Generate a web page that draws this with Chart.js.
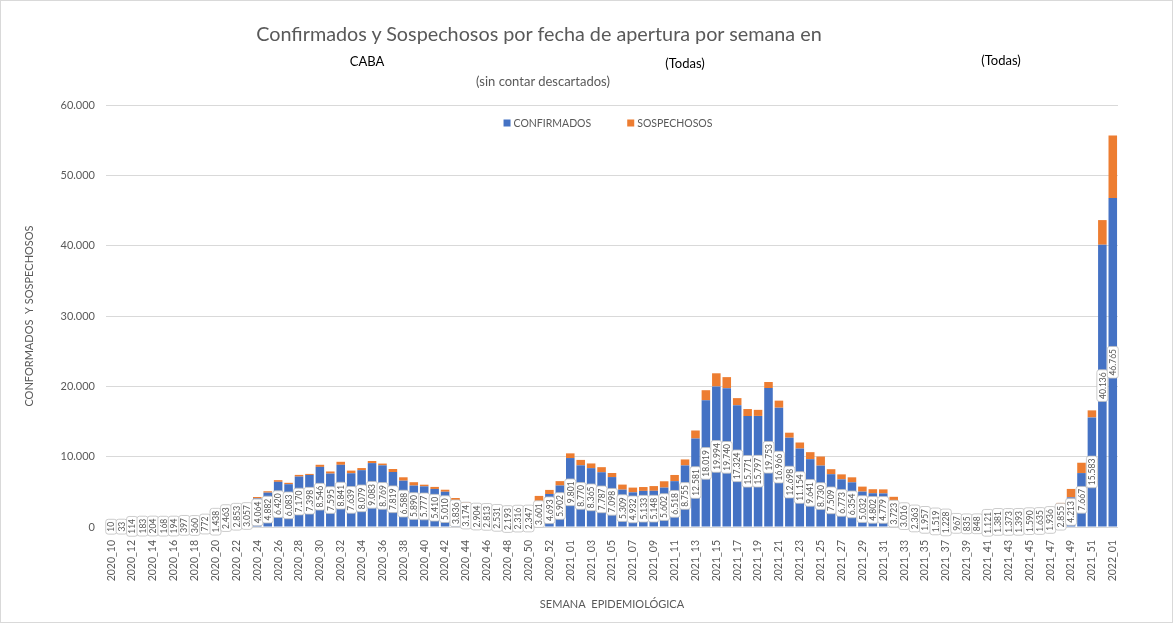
<!DOCTYPE html>
<html>
<head>
<meta charset="utf-8">
<script src="https://cdn.jsdelivr.net/npm/chart.js@4"></script>
<style>
  html, body { margin: 0; padding: 0; background: #fff; }
  #wrap { position: relative; width: 1173px; height: 623px; box-sizing: border-box; border: 1px solid #d9d9d9; overflow: hidden; }
  #c { position: absolute; left: 0; top: 0; }
  .t { position: absolute; font-family: Lato, "Open Sans", sans-serif; white-space: nowrap; transform: translate(-50%, -50%); }
</style>
</head>
<body>
<div id="wrap">
  <canvas id="c" width="1171" height="621"></canvas>
  <div class="t" style="left:538px; top:32px; font-size:19.8px; color:#595959;">Confirmados y Sospechosos por fecha de apertura por semana en</div>
  <div class="t" style="left:366px; top:60px; font-size:13px; color:#000;">CABA</div>
  <div class="t" style="left:684px; top:62px; font-size:13px; color:#000;">(Todas)</div>
  <div class="t" style="left:1000px; top:59px; font-size:13px; color:#000;">(Todas)</div>
  <div class="t" style="left:542px; top:80px; font-size:13px; color:#595959;">(sin contar descartados)</div>
</div>
<script>
// ---- DATA ----
const weeks2020 = ["10","11","12","13","14","15","16","17","18","19","20","21","22","23","24","25","26","27","28","29","30","31","32","33","34","35","36","37","38","39","40","41","42","43","44","45","46","47","48","49","50","51","52","53"];
const weeks2021 = ["01","02","03","04","05","06","07","08","09","10","11","12","13","14","15","16","17","18","19","20","21","22","23","24","25","26","27","28","29","30","31","32","33","34","35","36","37","38","39","40","41","42","43","44","45","46","47","48","49","50","51","52"];
const weeks2022 = ["01"];
const categories = [
  ...weeks2020.map(w => "2020_" + w),
  ...weeks2021.map(w => "2021_" + w),
  ...weeks2022.map(w => "2022_" + w)
];

const confirmados = [
  // 2020_10 .. 2020_53
  10, 33, 114, 183, 204, 168, 194, 397, 360, 772,
  1438, 2463, 2853, 3057, 4064, 4882, 6420, 6083, 7170, 7398,
  8546, 7595, 8841, 7639, 8079, 9083, 8769, 7819, 6588, 5890,
  5777, 5410, 5010, 3836, 3174, 2904, 2813, 2531, 2193, 2316,
  2347, 3601, 4693, 5902,
  // 2021_01 .. 2021_52
  9801, 8770, 8365, 7787, 7098, 5309, 4932, 5133, 5148, 5602,
  6518, 8755, 12581, 18019, 19994, 19740, 17324, 15771, 15797, 19753,
  16966, 12698, 11154, 9641, 8730, 7509, 6773, 6354, 5032, 4802,
  4779, 3723, 3016, 2363, 1957, 1519, 1228, 967, 835, 848,
  1121, 1381, 1373, 1393, 1590, 1635, 1936, 2855, 4213, 7667,
  15583, 40136,
  // 2022_01
  46765
];

const sospechosos = [
  // 2020_10 .. 2020_53
  10, 10, 10, 20, 20, 20, 20, 30, 30, 40,
  60, 80, 100, 150, 200, 200, 240, 200, 240, 150,
  300, 300, 430, 380, 300, 300, 250, 430, 480, 480,
  240, 290, 290, 290, 380, 290, 340, 200, 100, 100,
  100, 820, 580, 620,
  // 2021_01 .. 2021_52
  670, 770, 670, 720, 580, 720, 670, 550, 670, 900,
  880, 850, 1140, 1430, 1860, 1570, 1000, 1000, 860, 860,
  1000, 710, 860, 1000, 1290, 710, 710, 710, 710, 570,
  570, 570, 380, 200, 290, 100, 290, 240, 50, 50,
  60, 60, 60, 80, 80, 100, 290, 570, 1200, 1470,
  1000, 3500,
  // 2022_01
  8900
];

const yTicks = [0, 10000, 20000, 30000, 40000, 50000, 60000];
const seriesNames = ["CONFIRMADOS", "SOSPECHOSOS"];
const seriesColors = ["#4472C4", "#ED7D31"];

// ---- helpers ----
const FONT = "Lato, 'Open Sans', sans-serif";
const GREY = "#595959";
function fmt(v) { return String(v).replace(/\B(?=(\d{3})+(?!\d))/g, "."); }

// data labels on the CONFIRMADOS bars
const barLabels = {
  id: "barLabels",
  afterDatasetsDraw(chart) {
    const ctx = chart.ctx;
    const meta = chart.getDatasetMeta(0);
    const data = chart.data.datasets[0].data;
    ctx.save();
    ctx.font = "8.5px " + FONT;
    ctx.textAlign = "center";
    ctx.textBaseline = "middle";
    meta.data.forEach((el, i) => {
      const txt = fmt(data[i]);
      const yc = (el.y + el.base) / 2;
      const w = ctx.measureText(txt).width + 5;
      const h = 11;
      ctx.save();
      ctx.translate(el.x, yc);
      ctx.rotate(-Math.PI / 2);
      ctx.beginPath();
      ctx.roundRect(-w / 2, -h / 2, w, h, 2.5);
      ctx.fillStyle = "#ffffff";
      ctx.fill();
      ctx.lineWidth = 0.8;
      ctx.strokeStyle = "#bfbfbf";
      ctx.stroke();
      ctx.fillStyle = GREY;
      ctx.fillText(txt, 0, 0.5);
      ctx.restore();
    });
    ctx.restore();
  }
};

// legend drawn inside the plot area
const innerLegend = {
  id: "innerLegend",
  afterDraw(chart) {
    const ctx = chart.ctx;
    ctx.save();
    ctx.font = "10.5px " + FONT;
    ctx.textBaseline = "middle";
    const box = 7, gapBox = 3, gapItem = 36;
    const items = chart.data.datasets.map(ds => ({ text: ds.label, color: ds.backgroundColor }));
    let total = 0;
    items.forEach((it, k) => { it.w = box + gapBox + ctx.measureText(it.text).width; total += it.w + (k ? gapItem : 0); });
    let x = 607 - total / 2;
    const y = 122;
    items.forEach(it => {
      ctx.fillStyle = it.color;
      ctx.fillRect(x, y - box / 2, box, box);
      ctx.fillStyle = GREY;
      ctx.fillText(it.text, x + box + gapBox, y + 0.5);
      x += it.w + gapItem;
    });
    ctx.restore();
  }
};

new Chart(document.getElementById("c"), {
  type: "bar",
  data: {
    labels: categories,
    datasets: [
      { label: seriesNames[0], data: confirmados, backgroundColor: seriesColors[0], stack: "s", barPercentage: 0.82, categoryPercentage: 1.0 },
      { label: seriesNames[1], data: sospechosos, backgroundColor: seriesColors[1], stack: "s", barPercentage: 0.82, categoryPercentage: 1.0 }
    ]
  },
  options: {
    responsive: false,
    animation: false,
    devicePixelRatio: 1,
    layout: { padding: { left: 0, right: 54, top: 104, bottom: 0 } },
    plugins: {
      legend: { display: false },
      tooltip: { enabled: false },
      title: { display: false }
    },
    scales: {
      x: {
        stacked: true,
        grid: { display: false, drawTicks: false },
        border: { display: false },
        ticks: {
          autoSkip: false,
          maxRotation: 90,
          minRotation: 90,
          padding: 13,
          color: GREY,
          font: { family: FONT, size: 10.5 },
          callback: function (val, idx) { return idx % 2 === 0 ? categories[idx] : ""; }
        },
        title: {
          display: true,
          text: "SEMANA  EPIDEMIOLÓGICA",
          color: GREY,
          font: { family: FONT, size: 11 },
          padding: { top: 4, bottom: 11 }
        },
        afterFit(scale) { scale.height = 95; }
      },
      y: {
        stacked: true,
        min: yTicks[0],
        max: yTicks[yTicks.length - 1],
        afterBuildTicks(scale) { scale.ticks = yTicks.map(v => ({ value: v })); },
        grid: { color: "#d9d9d9", drawTicks: false, lineWidth: 1 },
        border: { display: false },
        ticks: {
          padding: 11,
          color: GREY,
          font: { family: FONT, size: 11 },
          callback: v => fmt(v)
        },
        title: {
          display: true,
          text: "CONFORMADOS  Y SOSPECHOSOS",
          color: GREY,
          font: { family: FONT, size: 11 },
          padding: { top: 22, bottom: 0 }
        },
        afterFit(scale) { scale.width = 105; }
      }
    }
  },
  plugins: [barLabels, innerLegend]
});
</script>
</body>
</html>
